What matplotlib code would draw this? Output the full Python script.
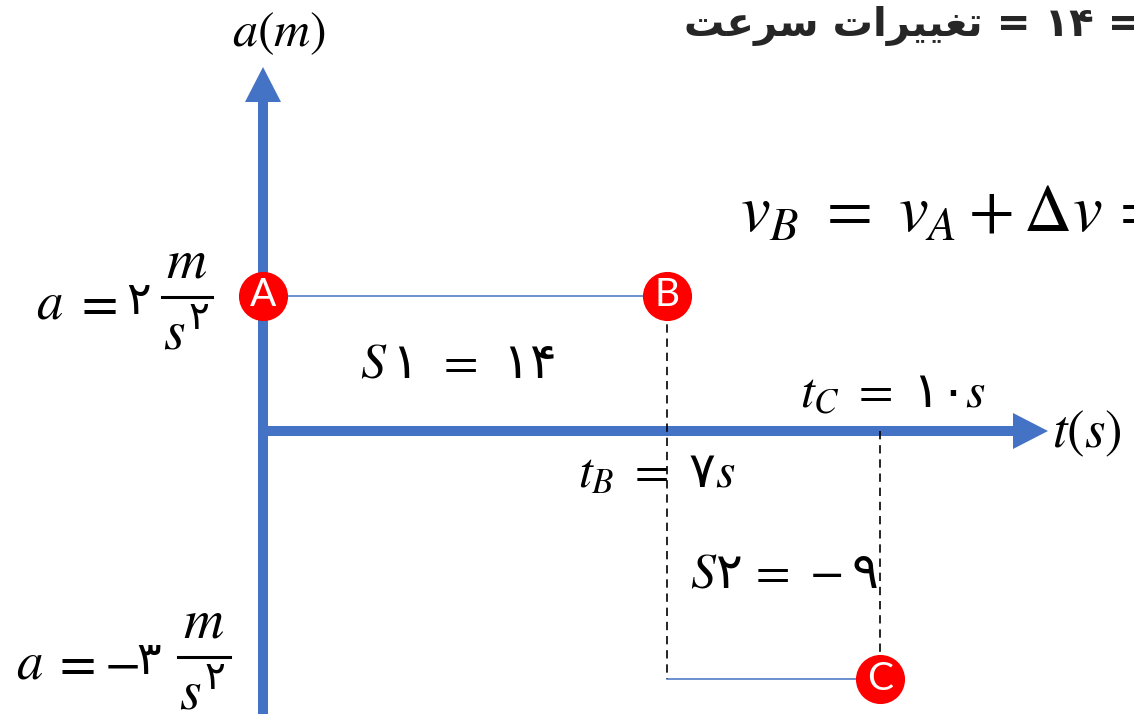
import numpy as np
import matplotlib
matplotlib.use("Agg")
import matplotlib.pyplot as plt

W, H = 1134, 714
BLUE = "#4472C4"

# ---------- values ----------
t_points = [0, 7, 10]          # t_A, t_B, t_C  [s]
a_points = [2, 2, -3]          # a at A, B, C   [m/s^2]
point_names = ["A", "B", "C"]

a1_parts = [r"$a$", r"$=$", "۲"]
a2_parts = [r"$a$", r"$=$", r"$-$", "۳"]
lbl_unit_num = r"$m$"
lbl_unit_den = r"$s^{\mathsf{۲}}$"
lbl_s1 = r"$S\,\mathsf{۱}\,\ =\,\ \mathsf{۱۴}$"
lbl_s2 = r"$S\mathsf{۲}\,=\,-\mathsf{۹}$"
lbl_tb = r"$t_B\ =\ \mathsf{۷}s$"
lbl_tc = r"$t_C\ =\ \mathsf{۱۰}s$"
lbl_vb = r"$v_B\ =\ v_A + \Delta v\,=$"

# title words, written in visual (left-to-right) order with presentation forms
w_sorat = "\uFE96\uFECB\uFEAE\uFEB3"                       # سرعت
w_taghirat = "\uFE95\uFE8D\uFEAE\uFEF4\uFEF4\uFED0\uFE97"  # تغییرات
title = w_sorat + " " + w_taghirat + " = ۱۴ ="

# ---------- diagram scale (drawing is not to scale) ----------
tk = [-4.6, 0, 7, 10, 14.2]
tx = [0, 263, 667, 880, 1134]
ak = [-3.44, -3, 0, 2, 6.35]
ay = [0, 35.5, 283, 418.5, 714]

plt.rcParams["mathtext.fontset"] = "custom"
plt.rcParams["mathtext.rm"] = "STIXGeneral"
plt.rcParams["mathtext.it"] = "STIXGeneral:italic"
plt.rcParams["mathtext.bf"] = "STIXGeneral:bold"
plt.rcParams["mathtext.sf"] = "DejaVu Sans"

fig = plt.figure(figsize=(W / 100, H / 100), dpi=100)
ax = fig.add_axes([0, 0, 1, 1])
ax.set_xscale("function", functions=(lambda t: np.interp(t, tk, tx),
                                      lambda p: np.interp(p, tx, tk)))
ax.set_yscale("function", functions=(lambda a: np.interp(a, ak, ay),
                                      lambda p: np.interp(p, ay, ak)))
ax.set_xlim(tk[0], tk[-1])
ax.set_ylim(ak[0], ak[-1])
ax.axis("off")


def px(x, y):
    # pixel (y down) -> axes fraction
    return x / W, 1 - y / H


tr = ax.transAxes

# axes arrows
ax.plot(*zip(px(263, 714), px(263, 100)), color=BLUE, lw=7.2,
        solid_capstyle="butt", transform=tr, zorder=2)
ax.fill(*zip(px(263, 67), px(245, 102), px(281, 102)), color=BLUE,
        transform=tr, zorder=2, lw=0)
ax.plot(*zip(px(258, 431), px(1015, 431)), color=BLUE, lw=7.2,
        solid_capstyle="butt", transform=tr, zorder=2)
ax.fill(*zip(px(1048, 431), px(1013, 413), px(1013, 449)), color=BLUE,
        transform=tr, zorder=2, lw=0)

# a-t graph pieces
tA, tB, tC = t_points
aA, aB, aC = a_points
ax.plot([tA, tB], [aA, aB], color=BLUE, lw=1.1, zorder=3)
ax.plot([tB, tC], [aC, aC], color=BLUE, lw=1.1, zorder=3)
ax.plot([tB, tB], [aB, aC], color="black", lw=1.2, ls=(0, (5, 3.5)), zorder=3)
ax.plot([tC, tC], [0, aC], color="black", lw=1.2, ls=(0, (5, 3.5)), zorder=3)

ax.scatter(t_points, a_points, s=1250, color="#FF0000", lw=0, zorder=4)
for t, a, n in zip(t_points, a_points, point_names):
    ax.text(t, a, n, color="white", fontsize=28, family="Lato",
            ha="center", va="center", zorder=5)

# axis names
ax.text(*px(279, 33), r"$a(m)$", fontsize=36, ha="center", va="center", transform=tr)
ax.text(*px(1052, 433), r"$t(s)$", fontsize=38, ha="left", va="center", transform=tr)

# acceleration labels, set piece by piece with a hand-drawn fraction bar
labels_left = [
    (a1_parts, [36, 74, 126], 298, 162, 212),
    (a2_parts, [16, 52, 104, 136], 658, 178, 230),
]
for parts, xs, yc, bx0, bx1 in labels_left:
    for s, x in zip(parts, xs):
        if s.startswith("$"):
            ax.text(*px(x, yc), s, fontsize=38, ha="left", va="center_baseline",
                    transform=tr)
        else:
            ax.text(*px(x, yc - 2), s, fontsize=33, family="DejaVu Sans",
                    ha="left", va="center_baseline", transform=tr)
    ax.plot(*zip(px(bx0, yc - 1), px(bx1, yc - 1)), color="black", lw=2.2,
            transform=tr)
    ax.text(*px((bx0 + bx1) / 2, yc - 35), lbl_unit_num, fontsize=40,
            ha="center", va="center", transform=tr)
    ax.text(*px(bx0 + 1, yc + 36), lbl_unit_den, fontsize=40,
            ha="left", va="center", transform=tr)

ax.text(*px(360, 364), lbl_s1, fontsize=36, ha="left", va="center", transform=tr)
ax.text(*px(690, 574), lbl_s2, fontsize=36, ha="left", va="center", transform=tr)
ax.text(*px(578, 473), lbl_tb, fontsize=36, ha="left", va="center", transform=tr)
ax.text(*px(800, 393), lbl_tc, fontsize=36, ha="left", va="center", transform=tr)
ax.text(*px(740, 212), lbl_vb, fontsize=48, ha="left", va="center", transform=tr)
ax.text(*px(684, 36), title, fontsize=29, fontweight="bold", family="DejaVu Sans",
        color="#262626", ha="left", va="baseline", transform=tr)

fig.savefig("out.png", dpi=100)
